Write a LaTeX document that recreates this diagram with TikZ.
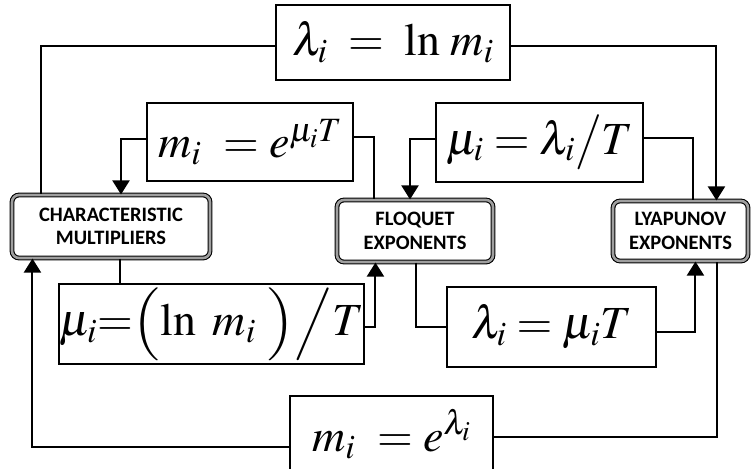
\documentclass[tikz,border=0pt]{standalone}
\usepackage{amsmath}
\usepackage{mathptmx}
\usepackage{fontspec}
\setmainfont{Liberation Serif}
\newfontfamily\boxfont{Carlito}
\usetikzlibrary{arrows.meta}
\newcommand{\sqzdelim}[1]{\vcenter{\hbox{\scalebox{1}[0.88]{$#1$}}}}

\begin{document}
\begin{tikzpicture}[x=1pt, y=-1pt, eq/.style={draw, line width=2pt, inner sep=0pt, font=\fontsize{46}{55}\selectfont}, blk/.style={draw=black, double=gray!75, double distance=2.6pt, line width=1.1pt, rounded corners=7pt, fill=white, align=center, inner sep=0pt, font=\boxfont\bfseries\fontsize{20.5}{23.5}\selectfont}, link/.style={line width=2pt}, arr/.style={link, -{Triangle[length=14pt,width=17pt]}}]
\useasboundingbox (0,0) rectangle (751,468);
% exponent boxes
\node[blk, minimum width=198pt, minimum height=63pt] (char) at (111,226.5) {CHARACTERISTIC\\MULTIPLIERS};
\node[blk, minimum width=156pt, minimum height=62pt] (floq) at (415,231) {FLOQUET\\EXPONENTS};
\node[blk, minimum width=135pt, minimum height=60pt] (lyap) at (680.5,231) {LYAPUNOV\\EXPONENTS};
% relations
\node[eq, minimum width=234pt, minimum height=75pt] (lnm) at (393,42.5) {$\lambda_i \;=\; \ln\, m_i$};
\node[eq, minimum width=206pt, minimum height=78pt] (mexp) at (250,142) {$m_i\ = e^{\mu_i T}$};
\node[eq, minimum width=207pt, minimum height=79pt] (mulam) at (539.5,142.5) {$\mu_i = \lambda_i \big/ T$};
\node[eq, minimum width=303pt, minimum height=80pt] (muln) at (211.5,324) {$\mu_i{=}\mathopen{\sqzdelim{\Bigl(}}\ln\ m_i\ \mathclose{\sqzdelim{\Bigr)}}\sqzdelim{\Big/}T$};
\node[eq, minimum width=209pt, minimum height=80pt] (lammu) at (551.5,327) {$\lambda_i = \mu_i T$};
\node[eq, minimum width=203pt, minimum height=76pt] (mlam) at (391.5,434) {$m_i\ = e^{\lambda_i}$};
% connectors
\draw[link] ([yshift=-3.5pt]lnm.west) -| ([xshift=30pt]char.north west);
\draw[arr] ([yshift=-3.5pt]lnm.east) -| ([xshift=104pt]lyap.north west);
\draw[arr] ([yshift=3pt]mexp.west) -| ([xshift=10pt]char.north);
\draw[link] ([yshift=5pt]mexp.east) -| ([xshift=38pt]floq.north west);
\draw[arr] ([yshift=4pt]mulam.west) -| ([xshift=-5pt]floq.north);
\draw[link] ([yshift=5pt]mulam.east) -| ([xshift=81pt]lyap.north west);
\draw[link] ([xshift=9pt]char.south) -- ([xshift=9pt]char.south |- muln.north);
\draw[arr] ([yshift=-3pt]muln.east) -| ([xshift=39pt]floq.south west);
\draw[link] ([xshift=80pt]floq.south west) |- (lammu.west);
\draw[arr] ([yshift=-5pt]lammu.east) -| ([xshift=83pt]lyap.south west);
\draw[arr] ([yshift=-13pt]mlam.west) -| ([xshift=21pt]char.south west);
\draw[link] ([yshift=-3pt]mlam.east) -| ([xshift=105pt]lyap.south west);
\end{tikzpicture}
\end{document}
